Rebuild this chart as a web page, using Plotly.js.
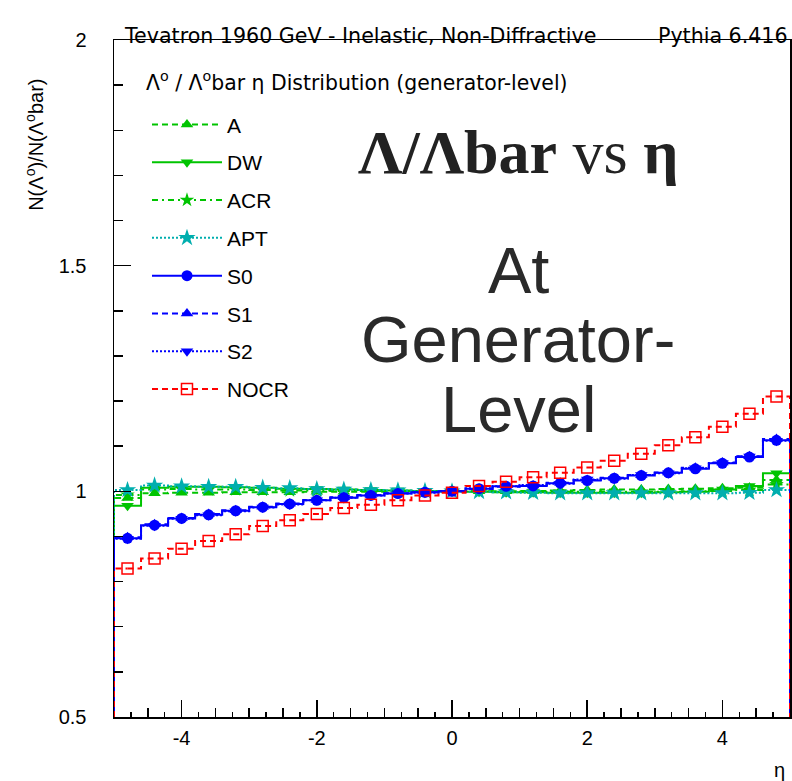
<!DOCTYPE html>
<html><head><meta charset="utf-8">
<script src="https://cdn.plot.ly/plotly-3.0.1.min.js"></script>
<style>body{margin:0;background:#fff}#chart{width:792px;height:781px}</style>
</head><body><div id="chart"></div>
<script>
// ---- data ----
const etaCenters = [-4.8,-4.4,-4.0,-3.6,-3.2,-2.8,-2.4,-2.0,-1.6,-1.2,-0.8,-0.4,0.0,0.4,0.8,1.2,1.6,2.0,2.4,2.8,3.2,3.6,4.0,4.4,4.8];
const valA    = [0.985,0.996,0.997,0.997,0.998,0.998,0.998,0.999,0.999,0.999,1.000,1.000,1.000,1.000,1.000,1.001,1.002,1.003,1.004,1.004,1.005,1.006,1.007,1.008,1.025];
const valDW   = [0.968,1.008,1.010,1.010,1.009,1.008,1.006,1.005,1.004,1.003,1.002,1.001,1.000,0.999,0.998,0.998,0.997,0.997,0.997,0.997,0.998,0.999,1.004,1.012,1.040];
const valACR  = [0.992,1.004,1.005,1.004,1.004,1.003,1.002,1.002,1.001,1.001,1.000,1.000,1.000,1.000,0.999,0.999,0.999,0.999,0.999,0.999,0.999,1.000,1.001,1.003,1.015];
const valAPT  = [1.003,1.013,1.011,1.010,1.010,1.008,1.007,1.005,1.004,1.003,1.002,1.001,1.000,0.999,0.998,0.997,0.996,0.996,0.996,0.996,0.996,0.996,0.996,0.997,1.003];
const valS0   = [0.896,0.925,0.940,0.948,0.957,0.965,0.972,0.980,0.986,0.991,0.995,0.998,1.000,1.006,1.011,1.012,1.018,1.024,1.029,1.035,1.041,1.050,1.062,1.076,1.113];
const valS1   = [0.898,0.927,0.941,0.950,0.958,0.966,0.973,0.981,0.987,0.992,0.996,0.998,1.000,1.005,1.010,1.013,1.019,1.025,1.030,1.036,1.042,1.052,1.064,1.078,1.116];
const valS2   = [0.895,0.924,0.939,0.947,0.956,0.964,0.971,0.980,0.986,0.991,0.995,0.997,1.000,1.007,1.011,1.014,1.017,1.026,1.028,1.036,1.040,1.051,1.063,1.077,1.112];
const valNOCR = [0.829,0.851,0.873,0.890,0.905,0.923,0.936,0.950,0.963,0.970,0.980,0.991,0.997,1.012,1.021,1.031,1.041,1.053,1.068,1.083,1.102,1.120,1.143,1.172,1.210];
const seriesNames = ['A','DW','ACR','APT','S0','S1','S2','NOCR'];
const seriesValues = [valA,valDW,valACR,valAPT,valS0,valS1,valS2,valNOCR];
const yTickVals = [0.5,1,1.5,2];
const yTickText = ['0.5','1','1.5','2'];
const xTickVals = [-4,-2,0,2,4];
const xTickText = ['-4','-2','0','2','4'];
const xRange = [-5,5];
const yRange = [0.5,2];

// ---- styles ----
const GREEN = '#00c400', CYAN = '#00aeae', BLUE = '#0000ff', RED = '#ff0000';
const styles = [
  {color:GREEN, dash:'6px,4px', symbol:'triangle-up', size:11},
  {color:GREEN, dash:'solid', symbol:'triangle-down', size:11},
  {color:GREEN, dash:'6px,4px,2px,4px', symbol:'star', size:11},
  {color:CYAN, dash:'2px,2px', symbol:'star', size:13},
  {color:BLUE, dash:'solid', symbol:'circle', size:11},
  {color:BLUE, dash:'6px,4px', symbol:'triangle-up', size:11},
  {color:BLUE, dash:'2px,2px', symbol:'triangle-down', size:11},
  {color:RED, dash:'6px,4px', symbol:'square-open', size:11}
];

const half = (etaCenters[1]-etaCenters[0])/2;
const n = etaCenters.length;
const traces = [];
seriesNames.forEach((name,i)=>{
  const v = seriesValues[i], s = styles[i];
  traces.push({
    type:'scatter', mode:'lines+markers', name:name, legendgroup:name,
    x:etaCenters, y:v,
    line:{color:s.color, width:2, dash:s.dash, shape:'hvh'},
    marker:{color:s.color, symbol:s.symbol, size:s.size, line:{color:s.color, width:s.symbol==='square-open'?1.5:0}}
  });
  // histogram outer edges: from first bin down to axis minimum, last bin down to minimum
  traces.push({
    type:'scatter', mode:'lines', showlegend:false, legendgroup:name, hoverinfo:'skip',
    x:[etaCenters[0]-half, etaCenters[0]-half, etaCenters[0]], y:[yRange[0], v[0], v[0]],
    line:{color:s.color, width:2, dash:s.dash}
  });
  traces.push({
    type:'scatter', mode:'lines', showlegend:false, legendgroup:name, hoverinfo:'skip',
    x:[etaCenters[n-1], etaCenters[n-1]+half, etaCenters[n-1]+half], y:[v[n-1], v[n-1], yRange[0]],
    line:{color:s.color, width:2, dash:s.dash}
  });
});
// carrier for the mid-length x ticks
traces.push({type:'scatter', mode:'none', x:xRange, y:yRange, xaxis:'x2', yaxis:'y', showlegend:false, hoverinfo:'skip'});

const FONT = 'Liberation Sans, Arial, Helvetica, sans-serif';
const WIDE = 'DejaVu Sans, Verdana, sans-serif';
const layout = {
  width:792, height:781,
  margin:{l:114, r:2, t:40, b:64},
  paper_bgcolor:'#fff', plot_bgcolor:'#fff',
  font:{family:FONT, color:'#000', size:17},
  showlegend:true,
  legend:{x:0.0488, y:0.905, xanchor:'left', yanchor:'top', bgcolor:'rgba(0,0,0,0)', borderwidth:0,
          font:{family:FONT, size:21, color:'#000'}, tracegroupgap:7.5, itemwidth:70, traceorder:'grouped'},
  xaxis:{range:xRange, tickvals:xTickVals, ticktext:xTickText, ticks:'inside', ticklen:17, tickwidth:1.5, tickcolor:'#000',
         showline:true, linecolor:'#000', linewidth:1.5, mirror:true, showgrid:false, zeroline:false,
         tickfont:{family:FONT, size:20}, ticklabelstandoff:2,
         minor:{dtick:0.25, tick0:0, ticks:'inside', ticklen:5, tickwidth:1.5, tickcolor:'#000', showgrid:false}},
  xaxis2:{range:xRange, overlaying:'x', anchor:'y', tickmode:'linear', tick0:0, dtick:0.5, ticks:'inside', ticklen:9, tickwidth:1.5,
          tickcolor:'#000', showticklabels:false, showline:false, showgrid:false, zeroline:false},
  yaxis:{range:yRange, tickvals:yTickVals, ticktext:yTickText, ticks:'inside', ticklen:17, tickwidth:1.5, tickcolor:'#000',
         showline:true, linecolor:'#000', linewidth:1.5, mirror:true, showgrid:false, zeroline:false,
         tickfont:{family:FONT, size:20}, ticklabelstandoff:22,
         minor:{dtick:0.1, ticks:'inside', ticklen:9, tickwidth:1.5, tickcolor:'#000', showgrid:false}},
  annotations:[
    {xref:'paper', yref:'paper', x:0.012, y:1.006, xanchor:'left', yanchor:'middle', showarrow:false,
     text:'Tevatron 1960 GeV - Inelastic, Non-Diffractive', font:{family:WIDE, size:20.6}},
    {xref:'paper', yref:'paper', x:1.0, y:1.006, xanchor:'right', yanchor:'middle', showarrow:false,
     text:'Pythia 6.416', font:{family:WIDE, size:20.6}},
    {xref:'paper', yref:'paper', x:0.045, y:0.938, xanchor:'left', yanchor:'middle', showarrow:false,
     text:'Λ<sup>o</sup> / Λ<sup>o</sup>bar η Distribution (generator-level)', font:{family:WIDE, size:20.4}},
    {xref:'paper', yref:'paper', x:-0.117, y:0.845, xanchor:'center', yanchor:'middle', showarrow:false, textangle:-90,
     text:'N(Λ<sup>o</sup>)/N(Λ<sup>o</sup>bar)', font:{family:FONT, size:20}},
    {xref:'paper', yref:'paper', x:0.984, y:-0.078, xanchor:'center', yanchor:'middle', showarrow:false,
     text:'η', font:{family:FONT, size:20}},
    {xref:'paper', yref:'paper', x:0.597, y:0.835, xanchor:'center', yanchor:'middle', showarrow:false,
     text:'<b>Λ/Λbar</b> vs <b>η</b>', font:{family:'Liberation Serif, Times New Roman, serif', size:62, color:'#222'}},
    {xref:'paper', yref:'paper', x:0.598, y:0.66, xanchor:'center', yanchor:'middle', showarrow:false,
     text:'At', font:{family:FONT, size:65, color:'#2a2a2a'}},
    {xref:'paper', yref:'paper', x:0.598, y:0.557, xanchor:'center', yanchor:'middle', showarrow:false,
     text:'Generator-', font:{family:FONT, size:65, color:'#2a2a2a'}},
    {xref:'paper', yref:'paper', x:0.598, y:0.4535, xanchor:'center', yanchor:'middle', showarrow:false,
     text:'Level', font:{family:FONT, size:65, color:'#2a2a2a'}}
  ]
};
Plotly.newPlot('chart', traces, layout, {displayModeBar:false, staticPlot:true});
</script>
</body></html>
